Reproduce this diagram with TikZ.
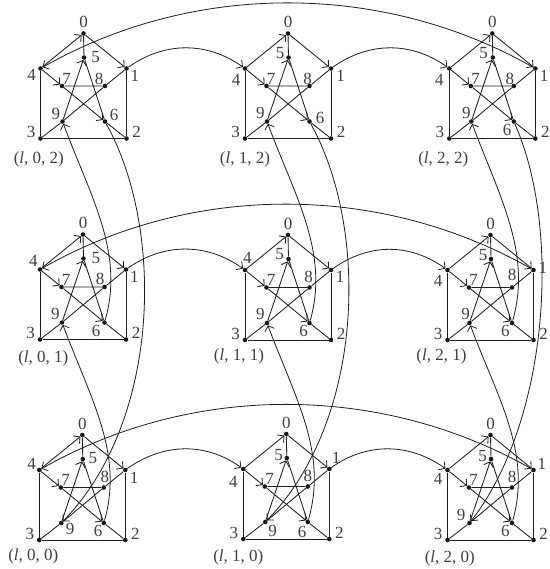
\documentclass[tikz,border=0pt]{standalone}
\usepackage{fontspec}
\setmainfont{Liberation Serif}
\usetikzlibrary{arrows.meta,calc}
\tikzset{
  vtx/.style={circle,fill=black!90,inner sep=0pt,minimum size=4.6pt},
  edg/.style={line width=0.85pt,draw=black!88},
  dedg/.style={edg,-{Straight Barb[length=4.5pt,width=10pt]}},
  conn/.style={line width=0.8pt,draw=black!88,-{Straight Barb[length=4.5pt,width=10pt]}},
  lbl/.style={inner sep=0pt,font=\fontsize{17}{17}\selectfont,text=black!75},
}
\newcommand\lab[4]{\node[lbl] (#1-l#2) at ($(#1-#2)+(#3,#4)$) {#2};}
\newcommand\ttl[4]{\node[lbl] (#1-t) at ($(#1-3)+(#2,#3)$) {#4};}
\newcommand\blk[3]{%
 \begin{scope}[shift={(#2,#3)}]
  \node[vtx] (#1-0) at (0,0) {};
  \node[vtx] (#1-5) at (0.5,24) {};
  \node[vtx] (#1-4) at (-43,35) {};
  \node[vtx] (#1-1) at (43,35) {};
  \node[vtx] (#1-7) at (-21.5,52.5) {};
  \node[vtx] (#1-8) at (21.5,52.5) {};
  \node[vtx] (#1-9) at (-21,88) {};
  \node[vtx] (#1-6) at (21.5,88) {};
  \node[vtx] (#1-3) at (-43,105) {};
  \node[vtx] (#1-2) at (43,105) {};
 \end{scope}
 \draw[edg] (#1-4)--(#1-3)--(#1-2)--(#1-1);
 \draw[edg] (#1-0)--(#1-5) (#1-7)--(#1-8) (#1-3)--(#1-9)--(#1-8)--(#1-1) (#1-6)--(#1-2) (#1-5)--(#1-6);
 \draw[dedg] (#1-4)--(#1-0);
 \draw[dedg] (#1-0)--(#1-1);
 \draw[dedg] (#1-4)--(#1-7);
 \draw[dedg] (#1-7)--(#1-6);
 \draw[dedg] (#1-9)--(#1-5);
 \lab{#1}{0}{0}{-11.5}
 \lab{#1}{7}{4.7}{-7.4}
 \lab{#1}{3}{-9.5}{-6.3}
 \lab{#1}{2}{10}{-6.3}
}
\begin{document}
\begin{tikzpicture}[x=1pt,y=-1pt]
\fill[white] (0,0) rectangle (549,569);
\useasboundingbox (0,0) rectangle (549,569);
% blocks
\blk{b02}{83.5}{33.5}
\blk{b12}{288}{33.5}
\blk{b22}{492.3}{33.5}
\blk{b01}{83}{234.5}
\blk{b11}{288}{235}
\blk{b21}{490.5}{235}
\blk{b00}{82.3}{435}
\blk{b10}{286.3}{434}
\blk{b20}{490.5}{435}
% variable labels
\lab{b02}{5}{11.7}{0}\lab{b02}{4}{-9}{6.7}\lab{b02}{1}{8.3}{7}\lab{b02}{8}{-6}{-7}\lab{b02}{9}{-6.7}{-7.7}\lab{b02}{6}{9}{-6.7}
\ttl{b02}{-1.7}{21}{(\textit{l}, 0, 2)}
\lab{b12}{5}{-8.3}{-4}\lab{b12}{4}{-9}{11}\lab{b12}{1}{9.7}{7.7}\lab{b12}{8}{-2}{-7}\lab{b12}{9}{-6.7}{-8.3}\lab{b12}{6}{10.7}{-4}
\ttl{b12}{0}{21}{(\textit{l}, 1, 2)}
\lab{b22}{5}{-9.3}{-4.7}\lab{b22}{4}{-10}{11.7}\lab{b22}{1}{8.7}{7.7}\lab{b22}{8}{-4}{-7}\lab{b22}{9}{-5}{-9}\lab{b22}{6}{-6.7}{8.3}
\ttl{b22}{-6}{21}{(\textit{l}, 2, 2)}
\lab{b01}{5}{12.3}{0}\lab{b01}{4}{-6.7}{-8.3}\lab{b01}{1}{8.3}{7.7}\lab{b01}{8}{-4.3}{-8}\lab{b01}{9}{-6.7}{-9}\lab{b01}{6}{-8.3}{8.3}
\ttl{b01}{3.3}{19}{(\textit{l}, 0, 1)}
\lab{b11}{5}{-9}{-5}\lab{b11}{4}{2.3}{-11.7}\lab{b11}{1}{9}{6.7}\lab{b11}{8}{-1}{-10.7}\lab{b11}{9}{-6.7}{-9}\lab{b11}{6}{-6}{7.7}
\ttl{b11}{-6}{16.7}{(\textit{l}, 1, 1)}
\lab{b21}{5}{-8}{-4.3}\lab{b21}{4}{-9.3}{10.7}\lab{b21}{1}{9.3}{-1.7}\lab{b21}{8}{0}{-12.3}\lab{b21}{9}{-4}{-9}\lab{b21}{6}{-6.7}{8.3}
\ttl{b21}{-6}{16}{(\textit{l}, 2, 1)}
\lab{b00}{5}{10}{-1.3}\lab{b00}{4}{-7.7}{-6}\lab{b00}{1}{8.7}{7.7}\lab{b00}{8}{1}{-10.7}\lab{b00}{9}{8.7}{5.7}\lab{b00}{6}{-5.7}{7.7}
\ttl{b00}{-6}{16.7}{(\textit{l}, 0, 0)}
\lab{b10}{5}{-8.3}{-2.7}\lab{b10}{4}{-10}{12.7}\lab{b10}{1}{6.7}{-10.7}\lab{b10}{8}{0}{-10.7}\lab{b10}{9}{7.3}{9.3}\lab{b10}{6}{-5.7}{10}
\ttl{b10}{-5}{18.3}{(\textit{l}, 1, 0)}
\lab{b20}{5}{-8.3}{-3}\lab{b20}{4}{-9.3}{9.3}\lab{b20}{1}{8.3}{-5.7}\lab{b20}{8}{0}{-10.7}\lab{b20}{9}{-8.3}{-8.3}\lab{b20}{6}{-6.7}{8}
\ttl{b20}{2.3}{18.3}{(\textit{l}, 2, 0)}
% horizontal short connectors
\foreach \r in {2,1,0}{
  \draw[conn] (b0\r-1) .. controls +(38,-27) and +(-38,-27) .. (b1\r-4);
  \draw[conn] (b1\r-1) .. controls +(38,-27) and +(-38,-27) .. (b2\r-4);
  \draw[conn] (b2\r-1) .. controls +(-153,-87) and +(153,-87) .. (b0\r-4);
}
% vertical short connectors
\foreach \c in {0,1,2}{
  \draw[conn] (b\c1-6) .. controls +(20,-70) and +(28,75) .. (b\c2-9);
  \draw[conn] (b\c0-6) .. controls +(20,-70) and +(28,75) .. (b\c1-9);
}
% vertical long connectors
\draw[conn] (b02-6) .. controls +(60,108) and +(99,-102) .. (b00-9);
\draw[conn] (b12-6) .. controls +(60,108) and +(99,-102) .. (b10-9);
\draw[conn] (b22-6) .. controls +(48,108) and +(79,-102) .. (b20-9);
\end{tikzpicture}
\end{document}
